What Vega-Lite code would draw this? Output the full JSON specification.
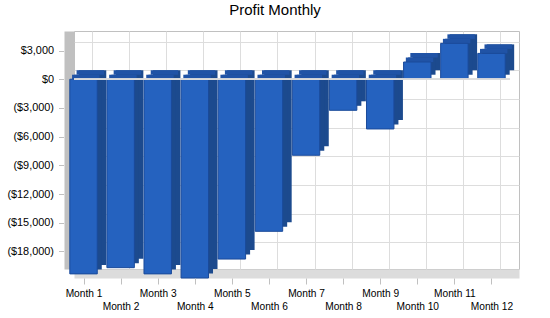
{
  "$schema": "https://vega.github.io/schema/vega-lite/v6.json",
  "width": 445,
  "height": 238,
  "autosize": "none",
  "padding": {"left": 74, "top": 31, "right": 31, "bottom": 49},
  "background": "white",
  "title": {
    "text": "Profit Monthly",
    "font": "Liberation Sans",
    "fontSize": 15,
    "fontWeight": "normal",
    "color": "black",
    "anchor": "middle",
    "baseline": "alphabetic",
    "offset": 1.5,
    "dx": -21.5
  },
  "config": {
    "font": "Liberation Sans",
    "view": {"stroke": "#c0c0c0", "strokeWidth": 1, "fill": "white"}
  },
  "data": {
    "values": [
      {"month": "Month 1", "profit": -20350},
      {"month": "Month 2", "profit": -19700},
      {"month": "Month 3", "profit": -20350},
      {"month": "Month 4", "profit": -20780},
      {"month": "Month 5", "profit": -18800},
      {"month": "Month 6", "profit": -15900},
      {"month": "Month 7", "profit": -7950},
      {"month": "Month 8", "profit": -3250},
      {"month": "Month 9", "profit": -5200},
      {"month": "Month 10", "profit": 1800},
      {"month": "Month 11", "profit": 3750},
      {"month": "Month 12", "profit": 2700}
    ]
  },
  "layer": [
    {
      "description": "back face of each box, seen as the right side",
      "mark": {"type": "bar", "color": "#1c4a8e"},
      "encoding": {
        "x": {
          "field": "month", "type": "nominal", "sort": null,
          "scale": {"paddingInner": 0.26, "paddingOuter": 0.13},
          "axis": {
            "orient": "bottom", "title": null, "labels": false, "ticks": false,
            "grid": true, "gridColor": "#dddddd", "bandPosition": 0.5,
            "domain": true, "domainColor": "#dcdcdc", "domainWidth": 9,
            "offset": 4.5, "zindex": 0
          }
        },
        "y": {
          "field": "profit", "type": "quantitative",
          "scale": {"domain": [-20780, 4100], "nice": false},
          "axis": {
            "orient": "left", "title": null, "labels": false, "ticks": false,
            "grid": true, "gridColor": "#dddddd",
            "values": [-18000, -15000, -12000, -9000, -6000, -3000, 0, 3000],
            "domain": true, "domainColor": "#c0c0c0", "domainWidth": 10,
            "offset": 5, "zindex": 0
          }
        },
        "y2": {"datum": 0}
      }
    },
    {
      "description": "middle slice of the side face, rounding off the bevel",
      "mark": {"type": "bar", "color": "#1c4a8e", "xOffset": -4.5, "yOffset": 4.5, "y2Offset": 4.5},
      "encoding": {
        "x": {"field": "month", "type": "nominal", "sort": null,
              "scale": {"paddingInner": 0.26, "paddingOuter": 0.13}, "axis": null},
        "y": {"field": "profit", "type": "quantitative",
              "scale": {"domain": [-20780, 4100], "nice": false}, "axis": null},
        "y2": {"datum": 0}
      }
    },
    {
      "description": "top face of the boxes below zero, back half",
      "transform": [{"filter": "datum.profit < 0"}],
      "mark": {"type": "bar", "color": "#2053a6", "xOffset": -2.25, "y2Offset": 4.5},
      "encoding": {
        "x": {"field": "month", "type": "nominal", "sort": null,
              "scale": {"paddingInner": 0.26, "paddingOuter": 0.13}, "axis": null},
        "y": {"datum": 0, "type": "quantitative",
              "scale": {"domain": [-20780, 4100], "nice": false}, "axis": null},
        "y2": {"datum": 0}
      }
    },
    {
      "description": "top face of the boxes below zero, front half",
      "transform": [{"filter": "datum.profit < 0"}],
      "mark": {"type": "bar", "color": "#2053a6", "xOffset": -6.75, "yOffset": 4.5, "y2Offset": 9},
      "encoding": {
        "x": {"field": "month", "type": "nominal", "sort": null,
              "scale": {"paddingInner": 0.26, "paddingOuter": 0.13}, "axis": null},
        "y": {"datum": 0, "type": "quantitative",
              "scale": {"domain": [-20780, 4100], "nice": false}, "axis": null},
        "y2": {"datum": 0}
      }
    },
    {
      "description": "top face of the boxes above zero, back half",
      "transform": [{"filter": "datum.profit >= 0"}],
      "mark": {"type": "bar", "color": "#2053a6", "xOffset": -2.25, "y2Offset": 4.5},
      "encoding": {
        "x": {"field": "month", "type": "nominal", "sort": null,
              "scale": {"paddingInner": 0.26, "paddingOuter": 0.13}, "axis": null},
        "y": {"field": "profit", "type": "quantitative",
              "scale": {"domain": [-20780, 4100], "nice": false}, "axis": null},
        "y2": {"field": "profit"}
      }
    },
    {
      "description": "top face of the boxes above zero, front half",
      "transform": [{"filter": "datum.profit >= 0"}],
      "mark": {"type": "bar", "color": "#2053a6", "xOffset": -6.75, "yOffset": 4.5, "y2Offset": 9},
      "encoding": {
        "x": {"field": "month", "type": "nominal", "sort": null,
              "scale": {"paddingInner": 0.26, "paddingOuter": 0.13}, "axis": null},
        "y": {"field": "profit", "type": "quantitative",
              "scale": {"domain": [-20780, 4100], "nice": false}, "axis": null},
        "y2": {"field": "profit"}
      }
    },
    {
      "description": "front face of each box, carrying the labelled axes",
      "mark": {
        "type": "bar", "color": "#2562bf", "stroke": "#1a4a9a", "strokeWidth": 1,
        "xOffset": -9, "yOffset": 9, "y2Offset": 9
      },
      "encoding": {
        "x": {
          "field": "month", "type": "nominal", "sort": null,
          "scale": {"paddingInner": 0.26, "paddingOuter": 0.13},
          "axis": {
            "orient": "bottom", "title": null, "grid": false, "domain": false,
            "offset": 9, "tickOffset": -9, "bandPosition": 0.5,
            "tickSize": 6, "tickColor": "#c0c0c0",
            "labelAngle": 0, "labelOverlap": false, "labelFontSize": 10.2,
            "labelColor": "black", "labelBaseline": "top",
            "labelPadding": {
              "condition": {"test": "toNumber(replace(datum.value, 'Month ', '')) % 2 == 0", "value": 17.5},
              "value": 4
            },
            "zindex": 1
          }
        },
        "y": {
          "field": "profit", "type": "quantitative",
          "scale": {"domain": [-20780, 4100], "nice": false},
          "axis": {
            "orient": "left", "title": null, "grid": false, "domain": false,
            "values": [-18000, -15000, -12000, -9000, -6000, -3000, 0, 3000],
            "labelExpr": "datum.value < 0 ? '($' + format(-datum.value, ',') + ')' : '$' + format(datum.value, ',')",
            "offset": 10.5, "tickOffset": 9, "tickSize": 5, "tickColor": "#c0c0c0",
            "labelFontSize": 10.9, "labelColor": "black", "labelPadding": 5,
            "zindex": 1
          }
        },
        "y2": {"datum": 0}
      }
    },
    {
      "description": "zero line along the front",
      "mark": {"type": "rule", "color": "#dcdcdc", "opacity": 0.75, "xOffset": -9, "x2Offset": -9, "yOffset": 9},
      "encoding": {
        "y": {"datum": 0, "type": "quantitative",
              "scale": {"domain": [-20780, 4100], "nice": false}, "axis": null}
      }
    }
  ],
  "resolve": {"axis": {"x": "independent", "y": "independent"}}
}
